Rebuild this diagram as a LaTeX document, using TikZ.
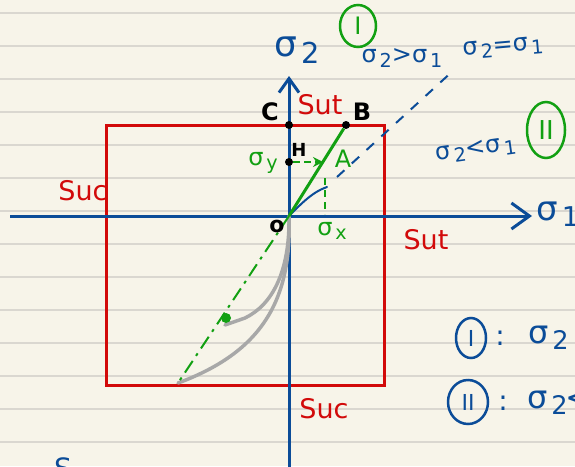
\documentclass[tikz,border=0pt]{standalone}
\usepackage{fontspec}
\setmainfont{DejaVu Sans}
\usetikzlibrary{arrows.meta,shapes.geometric}
\definecolor{paper}{HTML}{F7F4E9}
\definecolor{ruleln}{HTML}{DAD7D0}
\definecolor{pblue}{HTML}{0B4C98}
\definecolor{pred}{HTML}{D20A0A}
\definecolor{pgreen}{HTML}{12A012}
\definecolor{pgray}{HTML}{A8A8A8}
\newcommand{\fsz}[1]{\fontsize{#1}{#1}\selectfont}
\newcommand{\sgm}[1]{σ\kern0.12em\raisebox{-0.35ex}{\scalebox{0.8}{#1}}}
\begin{document}
\begin{tikzpicture}[x=1pt,y=-1pt,
  axis/.style={pblue,line width=3pt},
  redbox/.style={draw=pred,line width=3pt,inner sep=0pt},
  dotb/.style={circle,fill=black,inner sep=0pt,minimum size=8pt},
  dotg/.style={circle,fill=pgreen,inner sep=0pt,minimum size=10pt},
  txt/.style={inner sep=0pt,font=\fsz{#1}},
  txt/.default=24,
  btxt/.style={inner sep=0pt,font=\fsz{#1}\bfseries,text=black},
  gcirc/.style={ellipse,draw=pgreen,text=pgreen,line width=2.5pt,inner sep=0pt},
  bcirc/.style={ellipse,draw=pblue,text=pblue,line width=2.5pt,inner sep=0pt},
  grayc/.style={pgray,line width=3.5pt,line cap=round},
  greenl/.style={pgreen,line width=3pt}
]
\fill[paper] (0,0) rectangle (575,466);
\useasboundingbox (0,0) rectangle (575,466);
\clip (0,0) rectangle (575,466);
\foreach \yy in {13,46,...,450} \draw[ruleln,line width=1.3pt] (0,\yy) -- (575,\yy);

% coordinates
\coordinate (O) at (289,216);
\coordinate (xs) at (10,216);
\coordinate (xe) at (532,216);
\coordinate (ys) at (289,470);
\coordinate (ye) at (289,76);

% red square
\node[redbox,minimum width=278pt,minimum height=260pt] (sq) at (245,255) {};

% axes
\draw[axis,-{Straight Barb[length=18pt,width=26pt]}] (xs) -- (xe);
\draw[axis,-{Straight Barb[length=14pt,width=20pt]}] (ys) -- (ye);

% sigma2 = sigma1 line
\coordinate (b1) at (327,187);
\coordinate (b2) at (337,177);
\coordinate (b3) at (455,69);
\draw[pblue,line width=2pt,line cap=round] (O) .. controls (300,205) and (312,192) .. (b1);
\draw[pblue,line width=2pt,dash pattern=on 10pt off 10pt] (b2) -- (b3);

% gray curves
\coordinate (g1) at (178,383);
\coordinate (g2) at (245,318);
\coordinate (g3) at (225,325);
\draw[grayc] (O) .. controls (292,300) and (262,352) .. (g1);
\draw[grayc] (O) .. controls (290,272) and (272,305) .. (g2) -- (g3);

% points
\node[dotb] (C) at (289,125) {};
\node[dotb] (B) at (346,125) {};
\node[dotb] (H) at (289,162) {};
\coordinate (A) at (323,162);
\coordinate (Ax) at (325,178);
\coordinate (Axe) at (325,214);
\node[dotg] (G) at (226,318) {};

% green lines
\draw[greenl] (O) -- (B);
\draw[pgreen,line width=2pt,dash pattern=on 7pt off 4pt,-{Stealth[length=10pt,width=10pt]}] (H) -- (A);
\draw[pgreen,line width=2pt,dash pattern=on 7pt off 5pt] (Ax) -- (Axe);
\draw[pgreen,line width=2pt,dash pattern=on 14pt off 6pt on 3pt off 6pt] (O) -- (g1);

% labels
\node[txt=36,text=pblue] (s2) at (297,50) {\sgm{2}};
\node[txt=24,text=pblue,anchor=west] (s1) at (536,214) {\fsz{34}\sgm{1}};
\node[gcirc,minimum width=36pt,minimum height=42pt,font=\fsz{24}] (cI) at (358,26) {I};
\node[txt=24,text=pblue] (t1) at (402,58) {\sgm{2}>\sgm{1}};
\node[txt=24,text=pblue,rotate=5] (t2) at (503,48) {\sgm{2}=\sgm{1}};
\node[txt=24,text=pblue,rotate=8] (t3) at (476,150) {\sgm{2}<\sgm{1}};
\node[gcirc,minimum width=38pt,minimum height=56pt,font=\fsz{26}] (cII) at (546,130) {II};

\node[btxt=24] (lC) at (270,112) {C};
\node[txt=27,text=pred] (lSut) at (320,105) {Sut};
\node[btxt=24] (lB) at (362,112) {B};
\node[btxt=18] (lH) at (299,150) {H};
\node[txt=24,text=pgreen] (lsy) at (263,163) {\sgm{y}};
\node[txt=24,text=pgreen] (lA) at (343,159) {A};
\node[txt=24,text=pgreen] (lsx) at (332,231) {\sgm{x}};
\node[btxt=22] (lO) at (277,226) {o};
\node[txt=27,text=pred] (lSuc1) at (83,191) {Suc};
\node[txt=27,text=pred] (lSut2) at (426,240) {Sut};
\node[txt=27,text=pred] (lSuc2) at (324,409) {Suc};

% bottom right notes
\node[bcirc,minimum width=30pt,minimum height=40pt,font=\fsz{22}] (nI) at (471,338) {I};
\node[txt=28,text=pblue] (col1) at (500,338) {:};
\node[txt=32,text=pblue,anchor=west] (n1) at (528,338) {\sgm{2}};
\node[bcirc,minimum width=40pt,minimum height=44pt,font=\fsz{22}] (nII) at (468,402) {II};
\node[txt=28,text=pblue] (col2) at (503,403) {:};
\node[txt=32,text=pblue,anchor=west] (n2) at (527,402) {\sgm{2}\kern-2pt<};

% bottom-left cut text
\node[txt=28,text=pblue,anchor=base west] (bl) at (54,478) {S};
\end{tikzpicture}
\end{document}
